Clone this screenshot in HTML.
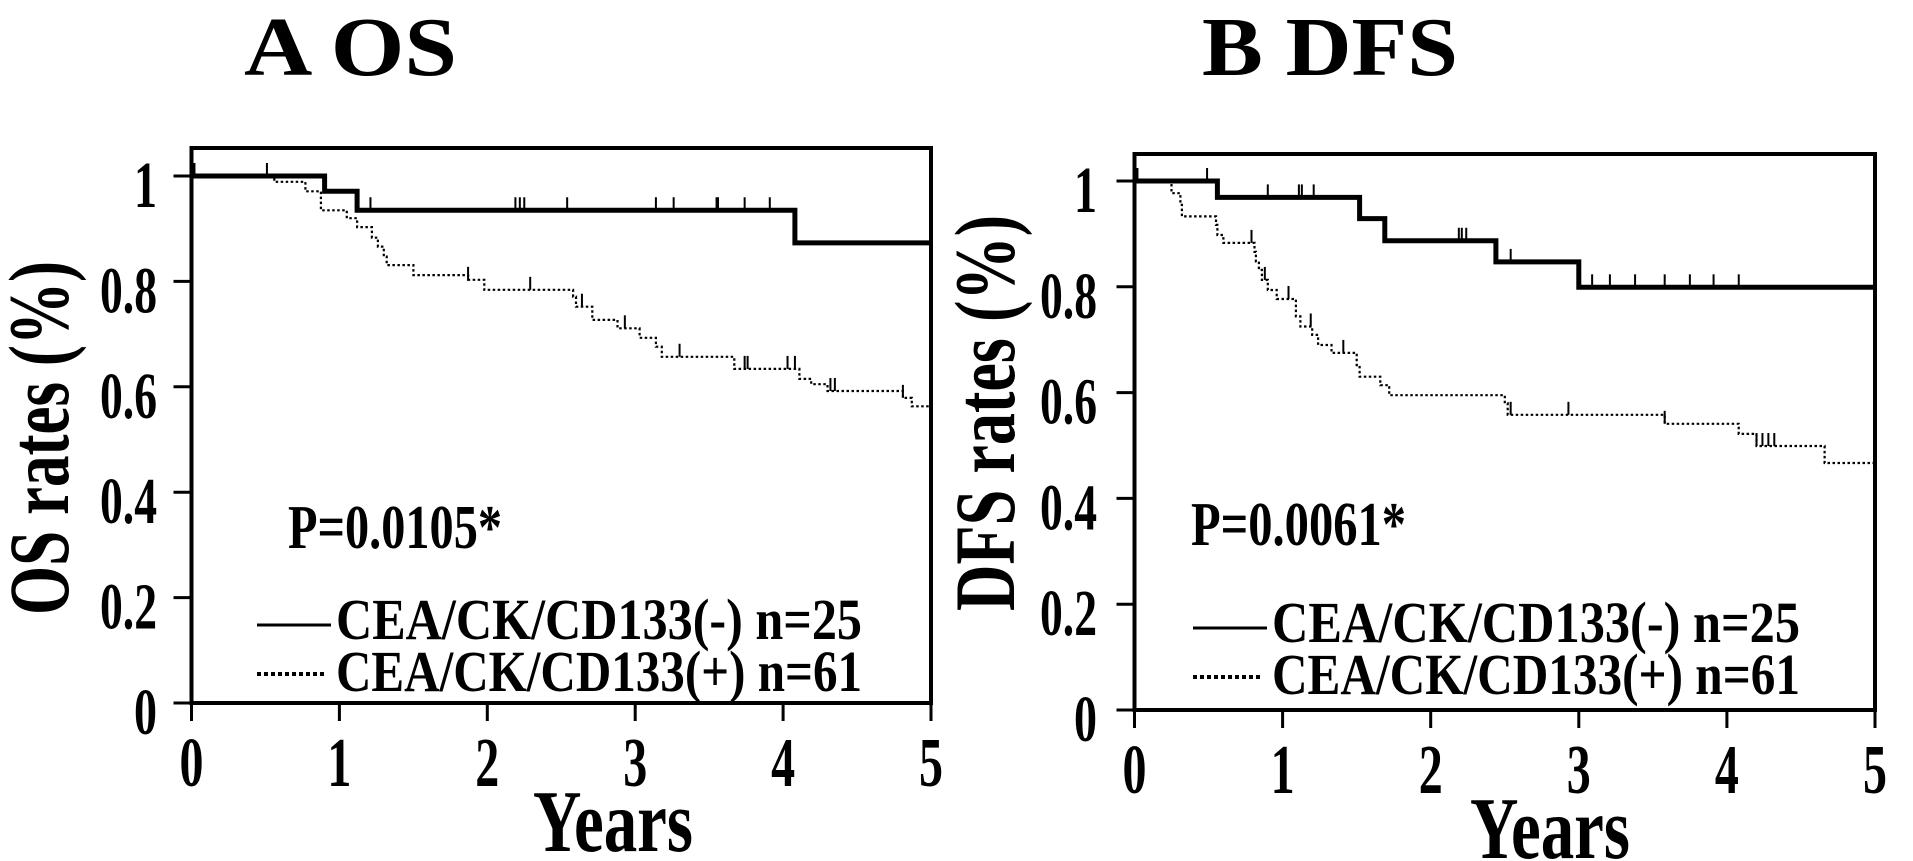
<!DOCTYPE html>
<html><head><meta charset="utf-8"><style>
html,body{margin:0;padding:0;background:#fff;}
svg{display:block;font-family:"Liberation Serif",serif;font-weight:bold;}
</style></head><body>
<svg id="fig" width="1913" height="861" viewBox="0 0 1913 861" xmlns="http://www.w3.org/2000/svg"></svg>
<script>
// ---------- data ----------
const xTickLabels = ["0","1","2","3","4","5"];
const yTickValues = [0,0.2,0.4,0.6,0.8,1];
const yTickLabels = ["0","0.2","0.4","0.6","0.8","1"];

// Panel A OS: negative group (solid)
const osNegTimes = [0.90,1.12,4.08];
const osNegSurv  = [0.971,0.935,0.873];
const osNegCens  = [0.02,0.51,1.21,2.19,2.22,2.25,2.54,3.14,3.26,3.55,3.56,3.74,3.91];
// Panel A OS: positive group (dotted)
const osPosTimes = [0.56,0.77,0.875,1.05,1.12,1.22,1.26,1.30,1.32,1.50,1.87,1.98,2.58,2.60,2.71,2.88,3.03,3.14,3.18,3.67,4.11,4.19,4.30,4.81,4.87];
const osPosSurv  = [0.989,0.971,0.935,0.92,0.903,0.883,0.866,0.847,0.831,0.812,0.803,0.784,0.771,0.752,0.727,0.711,0.693,0.676,0.657,0.634,0.615,0.605,0.592,0.579,0.563];
const osPosCens  = [1.87,2.29,2.64,2.93,3.30,3.74,3.76,4.03,4.08,4.32,4.35,4.81];

// Panel B DFS: negative group (solid)
const dfsNegTimes = [0.56,1.52,1.69,2.44,3.0];
const dfsNegSurv  = [0.969,0.929,0.887,0.847,0.799];
const dfsNegCens  = [0.02,0.49,0.90,1.11,1.13,1.21,2.19,2.21,2.24,2.54,3.09,3.21,3.38,3.58,3.75,3.91,4.08];
// Panel B DFS: positive group (dotted)
const dfsPosTimes = [0.25,0.31,0.32,0.55,0.56,0.60,0.81,0.82,0.84,0.86,0.90,0.96,1.09,1.12,1.20,1.24,1.33,1.50,1.52,1.66,1.72,2.50,2.52,3.58,4.08,4.20,4.66];
const dfsPosSurv  = [0.977,0.955,0.933,0.917,0.898,0.883,0.866,0.848,0.832,0.813,0.794,0.777,0.744,0.725,0.709,0.690,0.675,0.652,0.630,0.614,0.595,0.580,0.558,0.541,0.522,0.499,0.467];
const dfsPosCens  = [0.79,0.88,1.04,1.19,1.41,2.54,2.93,3.58,4.20,4.24,4.28,4.32];

// ---------- drawing ----------
const NS = "http://www.w3.org/2000/svg";
const svg = document.getElementById("fig");
function mk(tag, attrs, parent){
  const e = document.createElementNS(NS, tag);
  for (const k in attrs) e.setAttribute(k, attrs[k]);
  (parent||svg).appendChild(e);
  return e;
}
function survAt(times, surv, t){
  let s = 1;
  for (let i=0;i<times.length;i++){ if (t >= times[i]) s = surv[i]; }
  return s;
}
function tickLen(s){
  let w = 0;
  for (const ch of s) w += (ch === ".") ? 11 : 23;
  return w;
}

function panel(cfg){
  const g = mk("g", {});
  
  
  const xs = t => cfg.x0 + t*(cfg.x1-cfg.x0)/5;
  const ys = v => cfg.yb - v*cfg.ypu;

  const ti = mk("text", {x:cfg.titleX, y:75, "font-size":84, textLength:cfg.titleLen, lengthAdjust:"spacingAndGlyphs"}, g);
  ti.textContent = cfg.title;
  
  

  const fr = mk("rect", {x:cfg.x0, y:cfg.top, width:cfg.x1-cfg.x0, height:cfg.yb-cfg.top, fill:"none", stroke:"#000", "stroke-width":4}, g);
  
  

  for (let i=0;i<yTickValues.length;i++){
    const y = ys(yTickValues[i]);
    const tk = mk("line", {x1:cfg.x0-18, x2:cfg.x0, y1:y, y2:y, stroke:"#000", "stroke-width":3}, g);
    
    
    const lb = mk("text", {x:cfg.ylabR - tickLen(yTickLabels[i]), y:y+31, "font-size":66, textLength:tickLen(yTickLabels[i]), lengthAdjust:"spacingAndGlyphs"}, g);
    lb.textContent = yTickLabels[i];
    
    
  }
  for (let i=0;i<xTickLabels.length;i++){
    const x = xs(i);
    const tk = mk("line", {x1:x, x2:x, y1:cfg.yb, y2:cfg.yb+18, stroke:"#000", "stroke-width":3}, g);
    
    
    const lb = mk("text", {x:x-12, y:cfg.yb+83, "font-size":70, textLength:24, lengthAdjust:"spacingAndGlyphs"}, g);
    lb.textContent = xTickLabels[i];
    
    
  }
  const xt = mk("text", {x:cfg.yearsX-80, y:cfg.yb+148, "font-size":88, textLength:160, lengthAdjust:"spacingAndGlyphs"}, g);
  xt.textContent = "Years";
  
  
  const yt = mk("text", {x:-cfg.yTitleLen/2, y:0, "font-size":86, textLength:cfg.yTitleLen, lengthAdjust:"spacingAndGlyphs",
    transform:"translate("+cfg.yTitleX+","+cfg.yTitleY+") rotate(-90)"}, g);
  yt.textContent = cfg.yTitle;
  
  

  function curve(times, surv, cens, solid, nm){
    let d = "M"+xs(0)+","+ys(1);
    for (let i=0;i<times.length;i++){
      d += " H"+xs(times[i]).toFixed(1)+" V"+ys(surv[i]).toFixed(1);
    }
    d += " H"+xs(5);
    const p = mk("path", {d:d, fill:"none", stroke:"#000", "stroke-width": solid?5:2.2, "stroke-dasharray": solid?"none":"2.5,2.5"}, g);
    
    
    for (let j=0;j<cens.length;j++){
      const x = xs(cens[j]);
      const y = ys(survAt(times, surv, cens[j]));
      const c = mk("line", {x1:x, x2:x, y1:y, y2:y-13, stroke:"#000", "stroke-width":2}, g);
      
      
    }
  }
  curve(cfg.negT, cfg.negS, cfg.negC, true, "curve-negative");
  curve(cfg.posT, cfg.posS, cfg.posC, false, "curve-positive");

  const pv = mk("text", {x:cfg.pX, y:cfg.pY, "font-size":62, textLength:cfg.pLen, lengthAdjust:"spacingAndGlyphs"}, g);
  pv.textContent = cfg.p;
  
  

  const l1 = mk("line", {x1:cfg.legX, x2:cfg.legX+74, y1:cfg.legY, y2:cfg.legY, stroke:"#000", "stroke-width":3}, g);
  
  
  const t1 = mk("text", {x:cfg.legX+79, y:cfg.legY+14, "font-size":58, textLength:cfg.legLen, lengthAdjust:"spacingAndGlyphs"}, g);
  t1.setAttribute("xml:space","preserve");
  t1.textContent = "CEA/CK/CD133(-)  n=25";
  
  
  const l2 = mk("line", {x1:cfg.legX, x2:cfg.legX+70, y1:cfg.legY+49, y2:cfg.legY+49, stroke:"#000", "stroke-width":4, "stroke-dasharray":"4,3"}, g);
  
  
  const t2 = mk("text", {x:cfg.legX+79, y:cfg.legY+66, "font-size":58, textLength:cfg.legLen, lengthAdjust:"spacingAndGlyphs"}, g);
  t2.textContent = "CEA/CK/CD133(+) n=61";
  
  
}

panel({name:"panel-a-os", title:"A  OS", titleX:244, titleLen:213,
  x0:191.5, x1:931, top:148, yb:703, ypu:527, ylabR:157,
  yearsX:613, yTitle:"OS rates (%)", yTitleX:68, yTitleY:438, yTitleLen:354,
  negT:osNegTimes, negS:osNegSurv, negC:osNegCens,
  posT:osPosTimes, posS:osPosSurv, posC:osPosCens,
  p:"P=0.0105*", pX:288, pY:548, pLen:214,
  legX:257, legY:625, legLen:526});

panel({name:"panel-b-dfs", title:"B  DFS", titleX:1202, titleLen:256,
  x0:1134.5, x1:1875, top:154, yb:710, ypu:529, ylabR:1097,
  yearsX:1550, yTitle:"DFS rates (%)", yTitleX:1014, yTitleY:413, yTitleLen:396,
  negT:dfsNegTimes, negS:dfsNegSurv, negC:dfsNegCens,
  posT:dfsPosTimes, posS:dfsPosSurv, posC:dfsPosCens,
  p:"P=0.0061*", pX:1191, pY:545, pLen:215,
  legX:1193, legY:628, legLen:528});
</script>
</body></html>
